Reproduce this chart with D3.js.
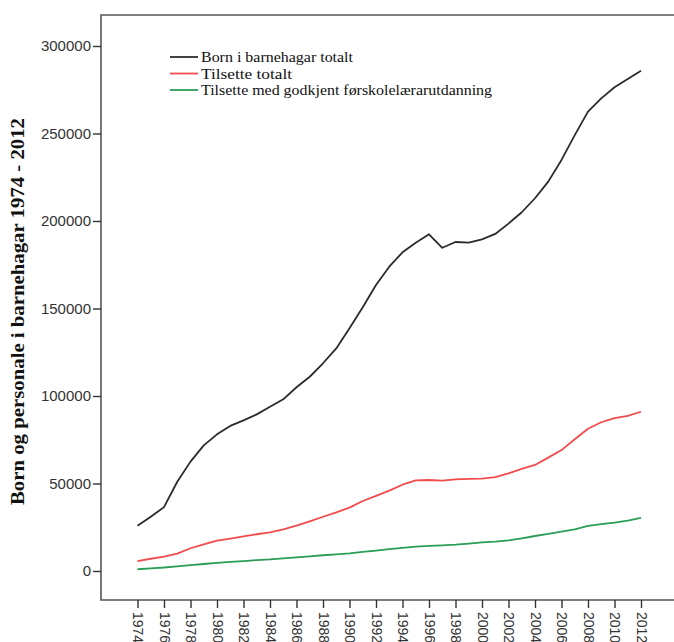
<!DOCTYPE html>
<html>
<head>
<meta charset="utf-8">
<script src="https://cdn.jsdelivr.net/npm/d3@7/dist/d3.min.js"></script>
<style>
  html, body { margin: 0; padding: 0; background: #fff; }
  svg { display: block; }
</style>
</head>
<body>
<script>
const years = d3.range(1974, 2013);
const tickYears = years.filter(y => y % 2 === 0);
const yTicks = [0, 50000, 100000, 150000, 200000, 250000, 300000];

const bornTotalt = [25900, 31000, 36500, 51000, 62500, 71800, 78100, 82900, 86100, 89500,
  93900, 98100, 105000, 111000, 118700, 127200, 138700, 150700, 163400, 173900,
  182100, 187600, 192400, 184700, 188000, 187600, 189500, 192600, 198500, 205000,
  213000, 222500, 234900, 249100, 262500, 270100, 276400, 281100, 285900];
const tilsetteTotalt = [5700, 7000, 8200, 9900, 13000, 15200, 17300, 18500, 19800, 21000,
  22100, 23800, 25900, 28400, 31000, 33500, 36200, 40000, 42900, 45900,
  49300, 51800, 52000, 51600, 52400, 52600, 52800, 53700, 55800, 58300,
  60600, 64800, 69100, 75300, 81300, 85000, 87400, 88700, 91000];
const tilsetteGodkjent = [1000, 1500, 2000, 2700, 3400, 4000, 4700, 5200, 5700, 6200,
  6600, 7200, 7800, 8400, 9000, 9500, 10100, 10900, 11700, 12500,
  13200, 13900, 14400, 14700, 15100, 15700, 16300, 16800, 17500, 18700,
  20000, 21200, 22500, 23800, 25800, 26800, 27700, 28800, 30400];

const seriesNames = ["Born i barnehagar totalt", "Tilsette totalt", "Tilsette med godkjent førskolelærarutdanning"];
const seriesColors = ["#2b2b2b", "#f24b4b", "#2a9d57"];
const seriesValues = [bornTotalt, tilsetteTotalt, tilsetteGodkjent];
const yTitle = "Born og personale i barnehagar 1974 - 2012";

const W = 674, H = 642;
const frame = { left: 101, top: 15, right: 674, bottom: 600 };

const svg = d3.select("body").append("svg").attr("width", W).attr("height", H);

const x = d3.scalePoint().domain(years).range([137.5, 641]);
const y = d3.scaleLinear().domain([0, 300000]).range([571, 46]);

// frame
svg.append("path")
  .attr("d", `M${frame.right},${frame.top}H${frame.left}V${frame.bottom}H${frame.right}`)
  .attr("fill", "none").attr("stroke", "#555").attr("stroke-width", 1.6);

// y axis ticks
const yAxis = d3.axisLeft(y).tickValues(yTicks).tickSize(8).tickPadding(2).tickFormat(d3.format("d"));
const gy = svg.append("g").attr("transform", `translate(${frame.left},0)`).call(yAxis);
gy.select(".domain").remove();
gy.selectAll(".tick line").attr("stroke", "#333").attr("stroke-width", 1.4);
gy.selectAll(".tick text").attr("fill", "#333")
  .style("font-family", "'Liberation Sans', Arial, sans-serif").style("font-size", "15px");

// x axis ticks
const xAxis = d3.axisBottom(x).tickValues(tickYears).tickSize(8).tickPadding(2);
const gx = svg.append("g").attr("transform", `translate(0,${frame.bottom})`).call(xAxis);
gx.select(".domain").remove();
gx.selectAll(".tick line").attr("stroke", "#333").attr("stroke-width", 1.4);
gx.selectAll(".tick text")
  .attr("fill", "#333")
  .style("font-family", "'Liberation Sans', Arial, sans-serif").style("font-size", "14px")
  .attr("transform", "rotate(90)")
  .attr("x", 12).attr("y", 0).attr("dy", "0.35em")
  .attr("text-anchor", "start");

// lines
const line = d3.line().x((d, i) => x(years[i])).y(d => y(d));
seriesValues.forEach((vals, i) => {
  svg.append("path").datum(vals)
    .attr("d", line)
    .attr("fill", "none")
    .attr("stroke", seriesColors[i])
    .attr("stroke-width", 1.8)
    .attr("stroke-linejoin", "round");
});

// legend
const legendWidths = [152, 91, 291];
const lg = svg.append("g").attr("transform", "translate(170,57)");
seriesNames.forEach((name, i) => {
  const row = lg.append("g").attr("transform", `translate(0,${i * 16.5})`);
  row.append("line").attr("x1", 0).attr("x2", 28).attr("y1", 0).attr("y2", 0)
    .attr("stroke", seriesColors[i]).attr("stroke-width", 1.8);
  row.append("text").attr("x", 31).attr("y", 0).attr("dy", "0.35em")
    .style("font-family", "'Liberation Serif', 'Times New Roman', serif")
    .style("font-size", "15px").attr("fill", "#111")
    .attr("textLength", legendWidths[i]).attr("lengthAdjust", "spacingAndGlyphs")
    .text(name);
});

// y title
svg.append("text")
  .attr("transform", `translate(24,${(frame.top + frame.bottom) / 2 + 4}) rotate(-90)`)
  .attr("text-anchor", "middle")
  .style("font-family", "'Liberation Serif', 'Times New Roman', serif")
  .style("font-size", "19px").style("font-weight", "bold").attr("fill", "#111")
  .attr("textLength", 387).attr("lengthAdjust", "spacingAndGlyphs")
  .text(yTitle);
</script>
</body>
</html>
